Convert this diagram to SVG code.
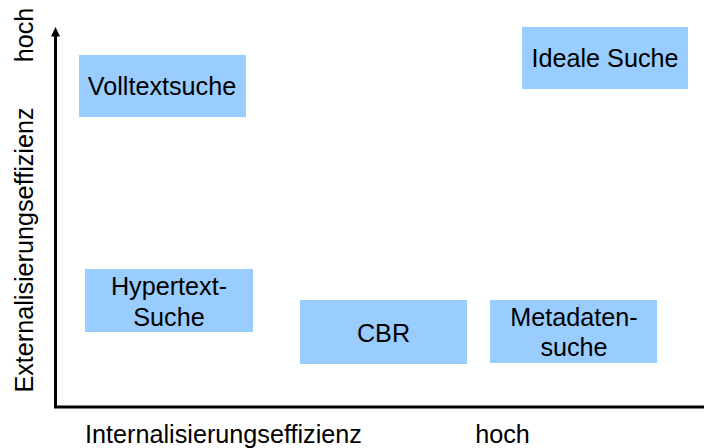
<svg xmlns="http://www.w3.org/2000/svg" width="704" height="448" viewBox="0 0 704 448">
<style>
.box{fill:#99CCFF;}
.t{font-family:"Liberation Sans",Arial,sans-serif;font-size:25.2px;fill:#000;text-anchor:middle;}
.ax{stroke:#000;stroke-width:3;fill:none;}
</style>
<rect width="704" height="448" fill="#fff"/>
<g id="axes">
<path class="ax" d="M55.5,34 L55.5,407 L704,407"/>
<polygon points="55.5,27 60,36.5 51,36.5" fill="#000"/>
</g>
<g id="labels">
<text class="t" transform="translate(33,250) rotate(-90)">Externalisierungseffizienz</text>
<text class="t" transform="translate(33,35) rotate(-90)">hoch</text>
<text class="t" x="223.5" y="443">Internalisierungseffizienz</text>
<text class="t" x="502.5" y="443">hoch</text>
</g>
<g id="volltextsuche">
<rect class="box" x="79" y="55" width="167" height="62"/>
<text class="t" x="162" y="95">Volltextsuche</text>
</g>
<g id="ideale-suche">
<rect class="box" x="522" y="27" width="166" height="62"/>
<text class="t" x="605" y="67">Ideale Suche</text>
</g>
<g id="hypertext-suche">
<rect class="box" x="85" y="269" width="168" height="63"/>
<text class="t" x="169" y="294.5">Hypertext-</text>
<text class="t" x="169" y="325.5">Suche</text>
</g>
<g id="cbr">
<rect class="box" x="300" y="300" width="167" height="64"/>
<text class="t" x="383.5" y="342">CBR</text>
</g>
<g id="metadatensuche">
<rect class="box" x="490" y="300" width="167" height="63"/>
<text class="t" x="574" y="326">Metadaten-</text>
<text class="t" x="574" y="356">suche</text>
</g>
<g id="connectors"></g>
</svg>
